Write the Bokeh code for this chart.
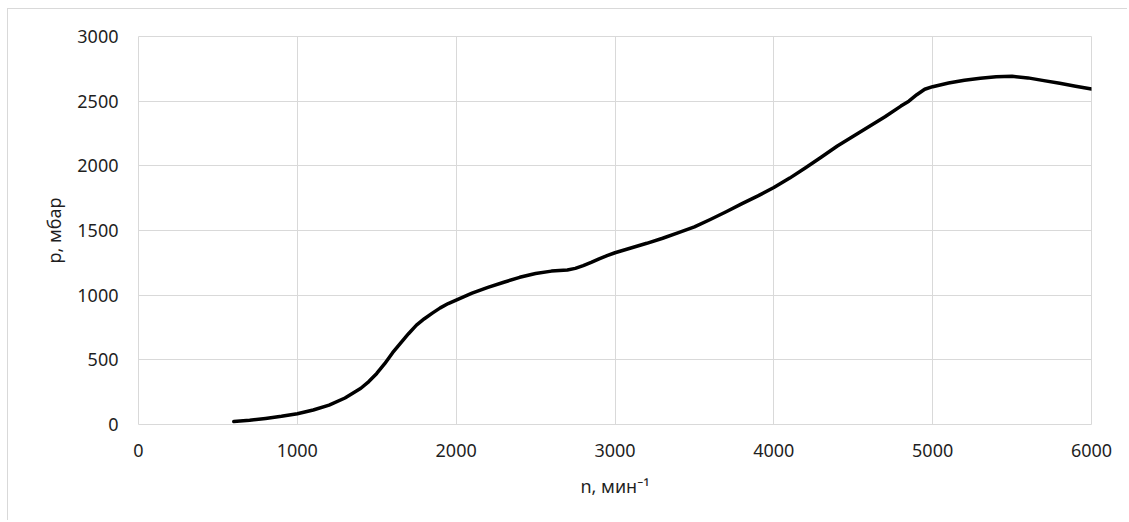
from bokeh.plotting import figure
from bokeh.models import Range1d, FixedTicker
from bokeh.embed import file_html
from bokeh.resources import INLINE

# data
n_rpm = [600, 700, 800, 900, 1000, 1100, 1200, 1300, 1400, 1450, 1500, 1550,
         1600, 1650, 1700, 1750, 1800, 1850, 1900, 1950, 2000, 2100, 2200,
         2300, 2400, 2500, 2600, 2700, 2750, 2800, 2850, 2900, 2950, 3000,
         3100, 3200, 3300, 3400, 3500, 3600, 3700, 3800, 3900, 4000, 4100,
         4200, 4300, 4400, 4500, 4600, 4700, 4800, 4850, 4900, 4950, 5000,
         5100, 5200, 5300, 5400, 5500, 5600, 5700, 5800, 5900, 6000]
p_mbar = [23, 33, 47, 63, 83, 112, 150, 205, 280, 332, 395, 470,
          555, 630, 702, 768, 818, 861, 902, 935, 962, 1015, 1060,
          1100, 1138, 1168, 1186, 1195, 1207, 1228, 1253, 1280, 1305, 1328,
          1365, 1401, 1440, 1483, 1528, 1585, 1645, 1708, 1768, 1832, 1905,
          1985, 2068, 2153, 2228, 2304, 2380, 2462, 2500, 2550, 2592, 2612,
          2640, 2662, 2678, 2688, 2692, 2680, 2659, 2638, 2616, 2594]

x_ticks = [0, 1000, 2000, 3000, 4000, 5000, 6000]
y_ticks = [0, 500, 1000, 1500, 2000, 2500, 3000]

FONT = "Noto Sans"
TXT = "#1f1f1f"
GRID = "#d9d9d9"

p = figure(width=1120, height=512, output_backend="svg", toolbar_location=None,
           x_range=Range1d(0, 6000), y_range=Range1d(0, 3000),
           min_border_left=130, min_border_right=37, min_border_top=27,
           min_border_bottom=97)
p.styles = {"border-left": "1px solid #d9d9d9", "border-top": "1px solid #d9d9d9",
            "margin-left": "7px", "margin-top": "8px"}

p.line(n_rpm, p_mbar, line_color="black", line_width=3.5,
       line_join="round", line_cap="round")

p.outline_line_color = GRID
for ax in (p.xaxis[0], p.yaxis[0]):
    ax.axis_line_color = None
    ax.major_tick_line_color = None
    ax.minor_tick_line_color = None
    ax.major_label_text_font = FONT
    ax.major_label_text_font_size = "18px"
    ax.major_label_text_color = TXT
    ax.axis_label_text_font = FONT
    ax.axis_label_text_font_size = "18px"
    ax.axis_label_text_font_style = "normal"
    ax.axis_label_text_color = TXT

p.xaxis.ticker = FixedTicker(ticks=x_ticks)
p.yaxis.ticker = FixedTicker(ticks=y_ticks)
p.xaxis.major_label_standoff = 13
p.yaxis.major_label_standoff = 14
p.xaxis.axis_label = "n, мин⁻¹"
p.yaxis.axis_label = "р, мбар"
p.xaxis.axis_label_standoff = 14
p.yaxis.axis_label_standoff = 8

p.xgrid.grid_line_color = GRID
p.ygrid.grid_line_color = GRID
p.xgrid.grid_line_width = 1
p.ygrid.grid_line_width = 1

open("out.html", "w").write(file_html(p, INLINE))
